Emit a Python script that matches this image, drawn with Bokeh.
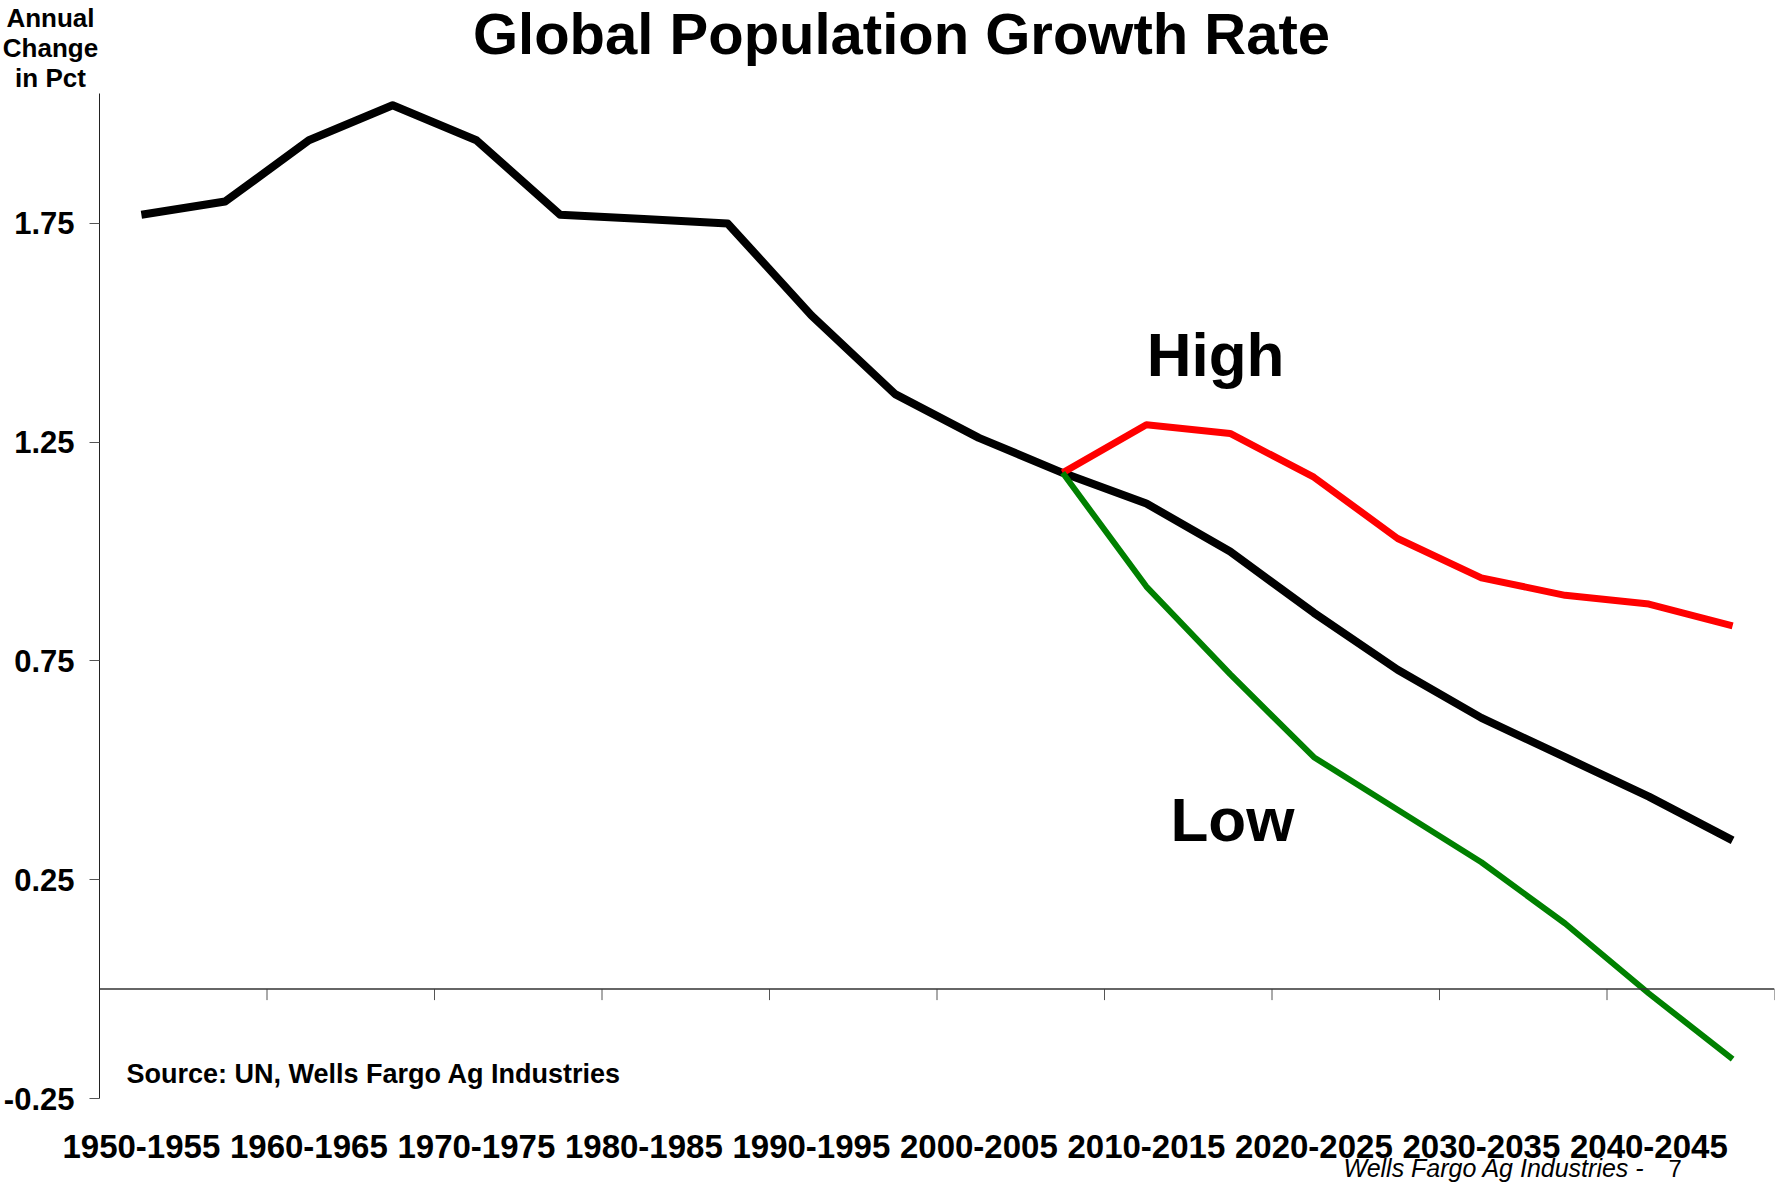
from bokeh.plotting import figure
from bokeh.models import FixedTicker, Span, Label, Range1d
from bokeh.layouts import column
from bokeh.embed import file_html
from bokeh.resources import INLINE

# ---- data ----
categories = ["1950-1955", "1955-1960", "1960-1965", "1965-1970", "1970-1975",
              "1975-1980", "1980-1985", "1985-1990", "1990-1995", "1995-2000",
              "2000-2005", "2005-2010", "2010-2015", "2015-2020", "2020-2025",
              "2025-2030", "2030-2035", "2035-2040", "2040-2045", "2045-2050"]
nan = float("nan")
medium_values = [1.77, 1.80, 1.94, 2.02, 1.94, 1.77, 1.76, 1.75, 1.54, 1.36,
                 1.26, 1.18, 1.11, 1.00, 0.86, 0.73, 0.62, 0.53, 0.44, 0.34]
high_values = [nan] * 11 + [1.18, 1.29, 1.27, 1.17, 1.03, 0.94, 0.90, 0.88, 0.83]
low_values = [nan] * 11 + [1.18, 0.92, 0.72, 0.53, 0.41, 0.29, 0.15, -0.01, -0.16]
y_ticks = [-0.25, 0.25, 0.75, 1.25, 1.75]

title_text = "Global Population Growth Rate"
y_title_text = "Annual\nChange\nin Pct"
source_text = "Source: UN, Wells Fargo Ag Industries"
footer_text = "Wells Fargo Ag Industries -"
page_text = "7"

# ---- layout (page pixels) ----
W, H = 1777, 1182
LEFT, RIGHT = 99, 3
FRAME_TOP, FRAME_BOTTOM = 93, 1098          # main plot frame
MAIN_EXTRA_BOTTOM = 19
FOOT_FRAME_TOP = 1157                       # frame of the bottom strip
Y_MIN, Y_MAX = -0.25, 2.047
n = len(categories)
X_MIN, X_MAX = -0.5, n - 0.5
FRAME_W = W - LEFT - RIGHT
FRAME_H = FRAME_BOTTOM - FRAME_TOP
FONT = "Liberation Sans"
BASE_FIX = 0.36   # baseline correction (fraction of font size)


def dx(px):
    return X_MIN + (px - LEFT) * (X_MAX - X_MIN) / FRAME_W


def dy(py):
    return Y_MAX - (py - FRAME_TOP) * (Y_MAX - Y_MIN) / FRAME_H


def base(py, size):
    return py - BASE_FIX * size


def clean(fig):
    fig.outline_line_color = None
    fig.xgrid.visible = False
    fig.ygrid.visible = False
    fig.background_fill_color = "white"
    fig.border_fill_color = "white"


x_range = Range1d(X_MIN, X_MAX)

# ---- header strip (title and axis title) ----
header = figure(width=W, height=FRAME_TOP, output_backend="svg", toolbar_location=None,
                x_range=x_range, y_range=Range1d(FRAME_TOP, 0),
                x_axis_location=None, y_axis_location=None,
                min_border_left=LEFT, min_border_right=RIGHT, min_border_top=0, min_border_bottom=0)
clean(header)
header.add_layout(Label(x=dx(901), y=base(54, 58), text=title_text, text_align="center",
                        text_baseline="alphabetic", text_font=FONT, text_font_style="bold",
                        text_font_size="58px", text_color="black"))
header.add_layout(Label(x=dx(50), y=47, text=y_title_text, text_align="center",
                        text_baseline="middle", text_line_height=1.0, text_font=FONT,
                        text_font_style="bold", text_font_size="26px", text_color="black"),
                  "left")

# ---- main chart ----
p = figure(width=W, height=FRAME_BOTTOM - FRAME_TOP + MAIN_EXTRA_BOTTOM,
           output_backend="svg", toolbar_location=None,
           x_range=x_range, y_range=Range1d(Y_MIN, Y_MAX), x_axis_location=None,
           min_border_left=LEFT, min_border_right=RIGHT,
           min_border_top=0, min_border_bottom=MAIN_EXTRA_BOTTOM)
clean(p)

p.yaxis.ticker = FixedTicker(ticks=y_ticks)
p.yaxis.major_label_overrides = {t: f"{t:.2f}" for t in y_ticks}
p.yaxis.axis_line_color = "#222222"
p.yaxis.axis_line_width = 1
p.yaxis.major_tick_line_color = "#555555"
p.yaxis.major_tick_in = 0
p.yaxis.major_tick_out = 10
p.yaxis.minor_tick_line_color = None
p.yaxis.major_label_standoff = 15
p.yaxis.major_label_text_font = FONT
p.yaxis.major_label_text_font_style = "bold"
p.yaxis.major_label_text_font_size = "31px"
p.yaxis.major_label_text_color = "black"

# zero line with category tick marks
p.add_layout(Span(location=0, dimension="width", line_color="#333333", line_width=1.5))
tick_x = [i - 0.5 for i in range(0, n + 1, 2)]
tick_len = (Y_MAX - Y_MIN) / FRAME_H * 11
p.segment(x0=tick_x, y0=[0] * len(tick_x), x1=tick_x, y1=[-tick_len] * len(tick_x),
          line_color="#555555", line_width=1)

xs = list(range(n))
p.line(xs, medium_values, line_color="black", line_width=8, line_join="round")
p.line(xs, high_values, line_color="#FF0000", line_width=7, line_join="round")
p.line(xs, low_values, line_color="#008000", line_width=6, line_join="round")

p.add_layout(Label(x=dx(1215), y=dy(base(376, 62)), text="High", text_align="center",
                   text_baseline="alphabetic", text_font=FONT, text_font_style="bold",
                   text_font_size="62px", text_color="black"))
p.add_layout(Label(x=dx(1170), y=dy(base(841, 62)), text="Low", text_align="left",
                   text_baseline="alphabetic", text_font=FONT, text_font_style="bold",
                   text_font_size="62px", text_color="black"))
p.add_layout(Label(x=dx(126), y=dy(base(1083, 27)), text=source_text, text_align="left",
                   text_baseline="alphabetic", text_font=FONT, text_font_style="bold",
                   text_font_size="27px", text_color="black"))

# ---- bottom strip: category labels and footer ----
foot = figure(width=W, height=H - (FRAME_BOTTOM + MAIN_EXTRA_BOTTOM),
              output_backend="svg", toolbar_location=None,
              x_range=x_range, y_range=Range1d(H, FOOT_FRAME_TOP),
              x_axis_location="above", y_axis_location=None,
              min_border_left=LEFT, min_border_right=RIGHT,
              min_border_top=FOOT_FRAME_TOP - (FRAME_BOTTOM + MAIN_EXTRA_BOTTOM),
              min_border_bottom=0)
clean(foot)
label_idx = list(range(0, n, 2))
foot.xaxis.ticker = FixedTicker(ticks=label_idx)
foot.xaxis.major_label_overrides = {i: categories[i] for i in label_idx}
foot.xaxis.axis_line_color = None
foot.xaxis.major_tick_line_color = None
foot.xaxis.minor_tick_line_color = None
foot.xaxis.major_tick_in = 0
foot.xaxis.major_tick_out = 0
foot.xaxis.major_label_standoff = 0
foot.xaxis.major_label_text_font = FONT
foot.xaxis.major_label_text_font_style = "bold"
foot.xaxis.major_label_text_font_size = "33px"
foot.xaxis.major_label_text_color = "black"

foot.add_layout(Label(x=dx(1343), y=base(1176, 25), text=footer_text, text_align="left",
                      text_baseline="alphabetic", text_font=FONT, text_font_style="italic",
                      text_font_size="25px", text_color="black"))
foot.add_layout(Label(x=dx(1668), y=base(1177, 24), text=page_text, text_align="left",
                      text_baseline="alphabetic", text_font=FONT,
                      text_font_size="24px", text_color="black"))

layout = column(header, p, foot, spacing=0)
open("out.html", "w").write(file_html(layout, INLINE))
